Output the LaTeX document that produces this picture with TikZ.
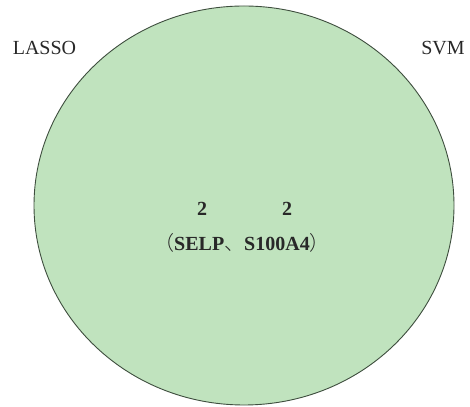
\documentclass[tikz,border=0pt]{standalone}
\usepackage{fontspec}
\setmainfont{Liberation Serif}
\newfontfamily\cjk{Noto Sans CJK SC Light}
\usetikzlibrary{shapes,positioning}
\definecolor{setgreen}{RGB}{192,227,190}
\definecolor{setline}{RGB}{62,78,62}
\definecolor{textgray}{RGB}{40,40,40}
\tikzset{
  basic/.style  = {font=\fontsize{20}{24}\selectfont, text=textgray, inner sep=0pt},
  setname/.style = {basic},
  count/.style = {basic, font=\fontsize{20}{24}\selectfont\bfseries},
  vennset/.style = {draw=setline, line width=0.9pt, fill=setgreen, ellipse,
                    minimum width=420pt, minimum height=399pt, inner sep=0pt}
}

\begin{document}
\begin{tikzpicture}[x=1pt, y=1pt]
\useasboundingbox (0,0) rectangle (470,406);

% the common set of both methods
\node [vennset] (venn) at (244,200.5) {};

% set names
\node [setname] (lasso) at (44.5,358) {LASSO};
\node [setname] (svm) at (443,358) {SVM};

% counts and shared genes
\node [count] (n1) at (202,197) {2};
\node [count] (n2) at (287,197) {2};
\node [count] (genes) at (242,163) {{\cjk\mdseries （}SELP{\cjk\mdseries 、}S100A4{\cjk\mdseries ）}};

\end{tikzpicture}
\end{document}
